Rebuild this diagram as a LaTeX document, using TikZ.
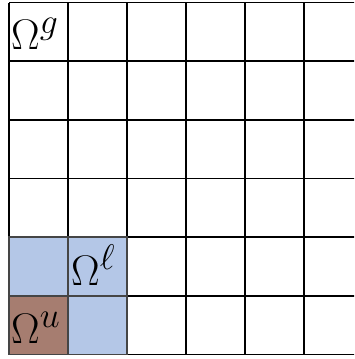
\documentclass[tikz,border=0pt]{standalone}
\definecolor{cellblue}{HTML}{B4C7E7}
\definecolor{cellbrown}{HTML}{A67D70}
\definecolor{celledge}{HTML}{454545}
\newcommand{\biglabel}[1]{\scalebox{1.72}{\Huge$#1$}}
\begin{document}
\begin{tikzpicture}[x=1pt,y=-1pt,
  gridline/.style={line width=1.6pt,black},
  cellfill/.style={draw=celledge,line width=1.6pt},
  omegalabel/.style={anchor=base west,inner sep=0pt}]
\useasboundingbox (0,0) rectangle (354,359);
\begin{scope}
\clip (0,0) rectangle (354,359);
% grid
\foreach \i in {0,...,6} {
  \draw[gridline] (9+59*\i,2.5) -- (9+59*\i,354.5);
}
\foreach \j in {0,...,6} {
  \draw[gridline] (9,2.5+58.67*\j) -- (380,2.5+58.67*\j);
}
% coloured cells
\path[cellfill,fill=cellblue] (9,237.2) rectangle (68,295.8);
\path[cellfill,fill=cellblue] (68,237.2) rectangle (127,295.8);
\path[cellfill,fill=cellblue] (68,295.8) rectangle (127,354.5);
\path[cellfill,fill=cellbrown] (9,295.8) rectangle (68,354.5);
\end{scope}
% labels
\node[omegalabel] (og) at (11,49) {\biglabel{\Omega^g}};
\node[omegalabel] (ol) at (71,285) {\biglabel{\Omega^\ell}};
\node[omegalabel] (ou) at (11,343) {\biglabel{\Omega^u}};
\end{tikzpicture}
\end{document}
